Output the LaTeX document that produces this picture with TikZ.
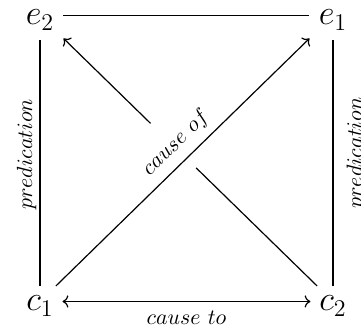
\documentclass[tikz,border=0pt]{standalone}
\usepackage{amsmath}
\usetikzlibrary{arrows.meta}

\begin{document}
\begin{tikzpicture}[x=0.5pt, y=0.5pt, line width=0.6pt,
  >={Computer Modern Rightarrow},
  enode/.style={anchor=base, inner sep=0pt, outer sep=0pt, font=\LARGE,
    text height=9.5pt, text depth=0pt, minimum width=23.5pt, minimum height=24.5pt},
  cnode/.style={anchor=base, inner sep=0pt, outer sep=0pt, font=\LARGE,
    text height=9.5pt, text depth=0pt, minimum width=22.5pt, minimum height=15.5pt},
  lbl/.style={font=\fontsize{11}{13}\selectfont, inner xsep=0pt}]

% Canvas
\useasboundingbox (0,0) rectangle (361,330);

% Corners of the square
\node[enode] (e2) at (40,305) {$e_2$};
\node[enode] (e1) at (333,305) {$e_1$};
\node[cnode] (c1) at (40,19) {$c_1$};
\node[cnode] (c2) at (333,19) {$c_2$};

% Sides
\draw (e2) -- (e1);
\draw (e2) -- node[lbl, pos=0.465, rotate=90, anchor=south, inner ysep=1.5pt] {$predication$} (c1);
\draw (e1) -- node[lbl, pos=0.46, rotate=90, anchor=north, inner ysep=6.5pt] {$predication$} (c2);
\draw[<->] (c1) -- node[lbl, anchor=north, inner ysep=4.5pt] {$cause\ to$} (c2);

% Diagonals (label box cuts the other diagonal)
\draw[->] (c2) -- (e2);
\path (c1) -- node[lbl, pos=0.525, sloped, above=-7pt, fill=white, minimum height=31.75pt] (causeof) {$cause\ of$} (e1);
\draw[->] (c1) -- (e1);

\end{tikzpicture}
\end{document}
